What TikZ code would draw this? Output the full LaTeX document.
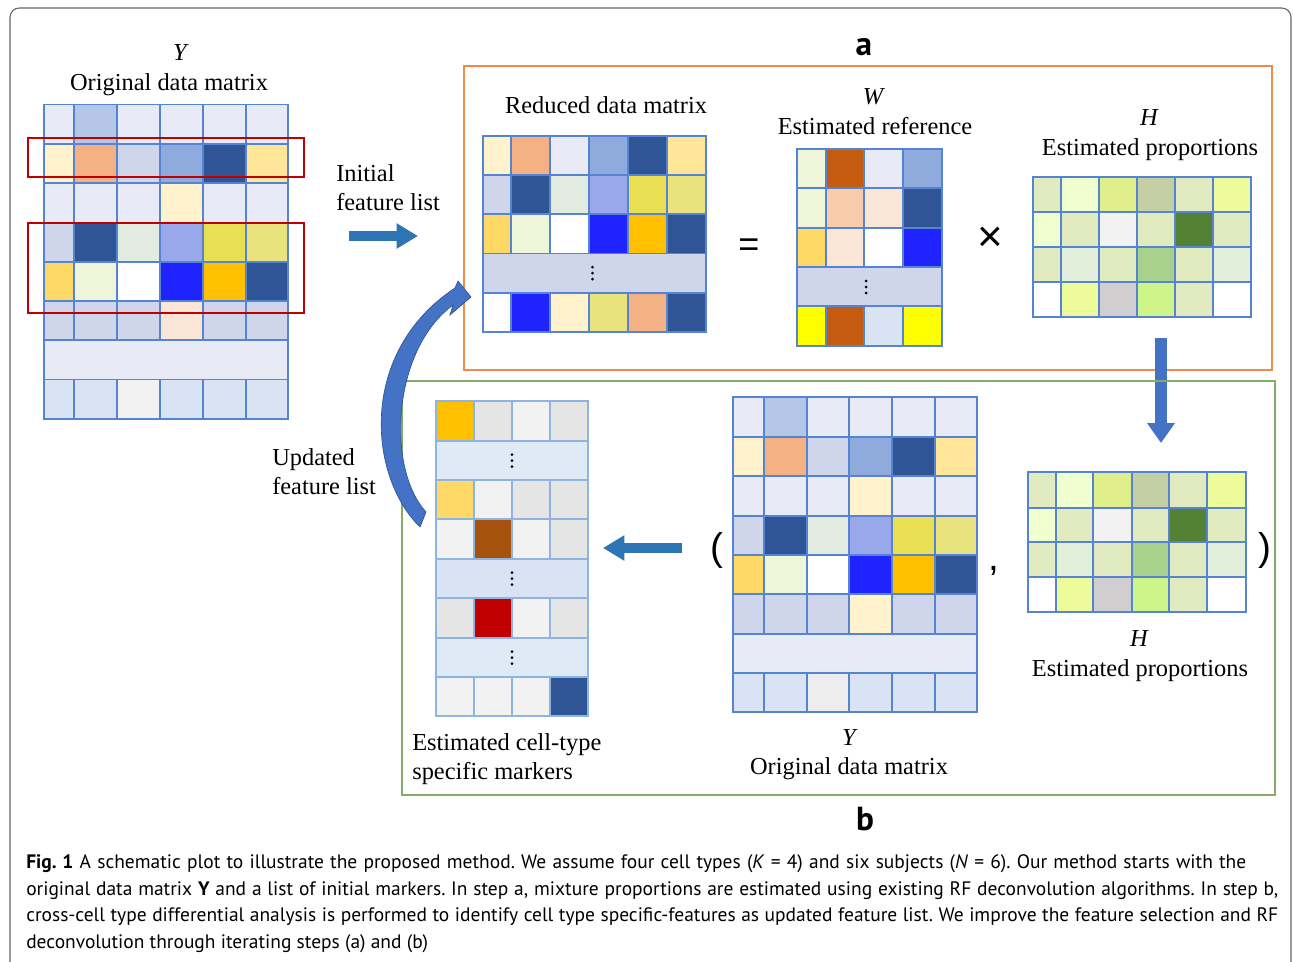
\documentclass[tikz,border=0pt]{standalone}
\usepackage{fontspec}
\setmainfont{Liberation Serif}
\newfontfamily\capfont{PT Sans}
\newfontfamily\symfont{Liberation Sans}
\usetikzlibrary{arrows.meta}
\definecolor{lav}{HTML}{E8EBF5}
\definecolor{lblue}{HTML}{B4C7E7}
\definecolor{cream}{HTML}{FFF2CC}
\definecolor{salmon}{HTML}{F4B183}
\definecolor{lavb}{HTML}{CFD5EA}
\definecolor{mblue}{HTML}{8FAADC}
\definecolor{dblue}{HTML}{2F5597}
\definecolor{lyel}{HTML}{FFE699}
\definecolor{pgreen}{HTML}{E2EBE0}
\definecolor{peri}{HTML}{99A8EA}
\definecolor{yel}{HTML}{E9DF52}
\definecolor{yelb}{HTML}{E8E37C}
\definecolor{gold}{HTML}{FFD966}
\definecolor{lgy}{HTML}{EEF5D8}
\definecolor{bblue}{HTML}{1F24FF}
\definecolor{orng}{HTML}{FFC000}
\definecolor{peach}{HTML}{FBE5D6}
\definecolor{lblueb}{HTML}{DAE3F3}
\definecolor{grayA}{HTML}{F2F2F2}
\definecolor{rust}{HTML}{C55A11}
\definecolor{peachb}{HTML}{F8CBAD}
\definecolor{yy}{HTML}{FFFF00}
\definecolor{hgA}{HTML}{E2EBC0}
\definecolor{hgB}{HTML}{F0FFD0}
\definecolor{hgC}{HTML}{E0EF8C}
\definecolor{hgD}{HTML}{C4CFA4}
\definecolor{hgE}{HTML}{EEFB9A}
\definecolor{dgreen}{HTML}{548235}
\definecolor{hgF}{HTML}{E2EFDA}
\definecolor{hgG}{HTML}{A9D18E}
\definecolor{hgH}{HTML}{D0CECE}
\definecolor{hgI}{HTML}{CDF58A}
\definecolor{grayB}{HTML}{E5E5E5}
\definecolor{brown}{HTML}{A5520F}
\definecolor{dred}{HTML}{C00000}
\definecolor{sky}{HTML}{DEEBF7}
\definecolor{grayC}{HTML}{EDEDED}
\definecolor{gridc}{HTML}{5585D2}
\definecolor{gridm}{HTML}{8DB4E2}
\definecolor{boxa}{HTML}{F08A4B}
\definecolor{boxb}{HTML}{86AA68}
\definecolor{arrc}{HTML}{2E75B6}
\definecolor{arrd}{HTML}{4472C4}
\definecolor{framec}{HTML}{666666}
\newcommand\mrow[5][cell]{%
  \foreach \mycol [count=\mi from 0] in {#5} {%
    \pgfmathsetmacro\xa{#2[\mi]}%
    \pgfmathsetmacro\xb{#2[\mi+1]}%
    \draw[#1, fill=\mycol] (\xa,#3) rectangle (\xb,#4);
  }}
\newcommand\mydots[2]{\fill (#1,#2-6) circle (1.5) (#1,#2) circle (1.5) (#1,#2+6) circle (1.5);}
\def\XA{{44,74.3,117.3,160,202.7,245.7,288.3}}
\def\XR{{483.3,511,550,589,628.3,667.3,706.3}}
\def\XW{{797.3,825.7,864.3,903.3,942.3}}
\def\XH{{1033.3,1060.7,1099,1137.3,1175,1212.7,1251}}
\def\XM{{435.7,474,512.3,550.3,588.3}}
\def\XB{{733.3,764,806.7,849.3,892,934.7,977.3}}
\def\XG{{1028.3,1055.7,1093.3,1131.7,1169.3,1207.3,1245.7}}
\begin{document}
\frenchspacing
\begin{tikzpicture}[x=0.75pt,y=-0.75pt,
  cell/.style={draw=gridc,line width=1.3pt},
  cellm/.style={draw=gridm,line width=1.3pt},
  lbl/.style={font=\fontsize{18.3}{22}\selectfont, inner sep=0pt, anchor=base},
  lbll/.style={lbl, anchor=base west},
  sym/.style={inner sep=0pt, anchor=base},
  panel/.style={font=\fontsize{25}{30}\capfont\bfseries, inner sep=0pt, anchor=base},
  capl/.style={font=\fontsize{14.6}{18}\capfont, inner sep=0pt, anchor=base west},
  blockarr/.style={arrc, line width=7pt, -{Triangle[width=18pt,length=16pt]}},
  redbox/.style={draw=dred, line width=1.3pt}]
\useasboundingbox (0,0) rectangle (1293,961);
\fill[white] (0,0) rectangle (1293,961);
% outer frame
\draw[framec, line width=0.8pt, rounded corners=7pt] (10,1000) -- (10,8) -- (1291,8) -- (1291,1000);

% ---------- left Y matrix ----------
\node[lbl] (ylab) at (180,60) {\itshape Y};
\node[lbl] (ytitle) at (169,90) {Original data matrix};
\mrow{\XA}{104.5}{143.8}{lav,lblue,lav,lav,lav,lav}
\mrow{\XA}{143.8}{183.1}{cream,salmon,lavb,mblue,dblue,lyel}
\mrow{\XA}{183.1}{222.4}{lav,lav,lav,cream,lav,lav}
\mrow{\XA}{222.4}{261.7}{lavb,dblue,pgreen,peri,yel,yelb}
\mrow{\XA}{261.7}{301}{gold,lgy,white,bblue,orng,dblue}
\mrow{\XA}{301}{340.3}{lavb,lavb,lavb,peach,lavb,lavb}
\draw[cell, fill=lav] (44,340.3) rectangle (288.3,379.6);
\mrow{\XA}{379.6}{418.9}{lblueb,lblueb,grayA,lblueb,lblueb,lblueb}
\draw[redbox] (28.3,137.7) rectangle (304,177.3);
\draw[redbox] (28.3,223.3) rectangle (304,313.3);

% initial feature list
\node[lbll] (init1) at (336,181) {Initial};
\node[lbll] (init2) at (336,210) {feature list};
\coordinate (ia1) at (349,236);
\coordinate (ia2) at (418,236);
\draw[blockarr] (ia1) -- (ia2);

% ---------- panel a ----------
\node[panel] (pa) at (864,55) {a};
\draw[boxa, line width=1.2pt] (464,66) rectangle (1272,370);
\node[lbl] (rtitle) at (606,113) {Reduced data matrix};
\mrow{\XR}{135.7}{175}{cream,salmon,lav,mblue,dblue,lyel}
\mrow{\XR}{175}{214.3}{lavb,dblue,pgreen,peri,yel,yelb}
\mrow{\XR}{214.3}{253.6}{gold,lgy,white,bblue,orng,dblue}
\draw[cell, fill=lavb] (483.3,253.6) rectangle (706.3,292.9);
\mydots{592.5}{273.2}
\mrow{\XR}{292.9}{332.2}{white,bblue,cream,yelb,salmon,dblue}

\node[sym, font=\fontsize{27}{30}\symfont] (eq) at (749,256) {=};
\node[lbl] (wlab) at (873,104) {\itshape W};
\node[lbl] (wtitle) at (875,134) {Estimated reference};
\mrow{\XW}{149}{188.3}{lgy,rust,lav,mblue}
\mrow{\XW}{188.3}{227.7}{lgy,peachb,peach,dblue}
\mrow{\XW}{227.7}{267}{gold,peach,white,bblue}
\draw[cell, fill=lavb] (797.3,267) rectangle (942.3,306.3);
\mydots{866}{287}
\mrow{\XW}{306.3}{345.7}{yy,rust,lblueb,yy}

\node[sym, font=\fontsize{33}{36}\symfont] (times) at (990,251) {×};
\node[lbl] (hlab) at (1149,125) {\itshape H};
\node[lbl] (htitle) at (1150,155) {Estimated proportions};
\mrow{\XH}{177.3}{212.3}{hgA,hgB,hgC,hgD,hgA,hgE}
\mrow{\XH}{212.3}{247.3}{hgB,hgA,grayA,hgA,dgreen,hgA}
\mrow{\XH}{247.3}{282.3}{hgA,hgF,hgA,hgG,hgA,hgF}
\mrow{\XH}{282.3}{317.3}{white,hgE,hgH,hgI,hgA,white}

% down arrow
\coordinate (da1) at (1161,338);
\coordinate (da2) at (1161,443);
\draw[arrd, line width=8.5pt, -{Triangle[width=20pt,length=15pt]}] (da1) -- (da2);

% ---------- panel b ----------
\draw[boxb, line width=1.1pt] (402,381) rectangle (1275,795);
\node[panel] (pb) at (865,830) {b};

% markers matrix
\mrow[cellm]{\XM}{401}{440.7}{orng,grayB,grayA,grayB}
\draw[cellm, fill=sky] (435.7,440.7) rectangle (588.3,480);
\mydots{512}{460.5}
\mrow[cellm]{\XM}{480}{519.3}{gold,grayA,grayB,grayB}
\mrow[cellm]{\XM}{519.3}{558.7}{grayA,brown,grayA,grayB}
\draw[cellm, fill=lblueb] (435.7,558.7) rectangle (588.3,598.3);
\mydots{512}{578.5}
\mrow[cellm]{\XM}{598.3}{637.7}{grayB,dred,grayA,grayB}
\draw[cellm, fill=sky] (435.7,637.7) rectangle (588.3,677);
\mydots{512}{657.5}
\mrow[cellm]{\XM}{677}{716.3}{grayA,grayA,grayA,dblue}
\node[lbll] (m1) at (412,750) {Estimated cell-type};
\node[lbll] (m2) at (412,779) {specific markers};

\node[lbll] (u1) at (272,465) {Updated};
\node[lbll] (u2) at (272,494) {feature list};

% left arrow
\coordinate (la1) at (682,548);
\coordinate (la2) at (603,548);
\draw[blockarr] (la1) -- (la2);

% parentheses and comma
\node[sym, font=\fontsize{29}{32}\symfont] (lp) at (717,560) {(};
\node[sym, font=\fontsize{29}{32}\symfont] (cm) at (994,570) {,};
\node[sym, font=\fontsize{29}{32}\symfont] (rp) at (1265,560) {)};

% bottom Y matrix
\mrow{\XB}{397.3}{436.7}{lav,lblue,lav,lav,lav,lav}
\mrow{\XB}{436.7}{476}{cream,salmon,lavb,mblue,dblue,lyel}
\mrow{\XB}{476}{515.7}{lav,lav,lav,cream,lav,lav}
\mrow{\XB}{515.7}{555}{lavb,dblue,pgreen,peri,yel,yelb}
\mrow{\XB}{555}{594.3}{gold,lgy,white,bblue,orng,dblue}
\mrow{\XB}{594.3}{634}{lavb,lavb,lavb,cream,lavb,lavb}
\draw[cell, fill=lav] (733.3,634) rectangle (977.3,673.3);
\mrow{\XB}{673.3}{712.3}{lblueb,lblueb,grayC,lblueb,lblueb,lblueb}
\node[lbl] (y2lab) at (849,745) {\itshape Y};
\node[lbl] (y2title) at (849,774) {Original data matrix};

% bottom H matrix
\mrow{\XG}{472.3}{507.7}{hgA,hgB,hgC,hgD,hgA,hgE}
\mrow{\XG}{507.7}{542.3}{hgB,hgA,grayA,hgA,dgreen,hgA}
\mrow{\XG}{542.3}{577.3}{hgA,hgF,hgA,hgG,hgA,hgF}
\mrow{\XG}{577.3}{611.7}{white,hgE,hgH,hgI,hgA,white}
\node[lbl] (h2lab) at (1139,646) {\itshape H};
\node[lbl] (h2title) at (1140,676) {Estimated proportions};

% curved arrow (updated feature list back to panel a)
\coordinate (ca1) at (423,520);
\coordinate (ca2) at (471,297);
\fill[arrd, draw=dblue, line width=0.5pt]
  (420,527) .. controls (368,476) and (358,352) .. (455,288)
  -- (458,281) -- (ca2) -- (450,315) -- (453,305)
  .. controls (392,350) and (386,468) .. (426,512) -- cycle;

% caption
\node[capl] (c1) at (26,868) {\makebox[915pt][s]{{\bfseries Fig. 1} A schematic plot to illustrate the proposed method. We assume four cell types (\textit{K} = 4) and six subjects (\textit{N} = 6). Our method starts with the}};
\node[capl] (c2) at (26,895) {\makebox[939pt][s]{original data matrix {\bfseries Y} and a list of initial markers. In step a, mixture proportions are estimated using existing RF deconvolution algorithms. In step b,}};
\node[capl] (c3) at (26,921) {\makebox[939pt][s]{cross-cell type differential analysis is performed to identify cell type specific-features as updated feature list. We improve the feature selection and RF}};
\node[capl] (c4) at (26,948) {deconvolution through iterating steps (a) and (b)};
\end{tikzpicture}
\end{document}
